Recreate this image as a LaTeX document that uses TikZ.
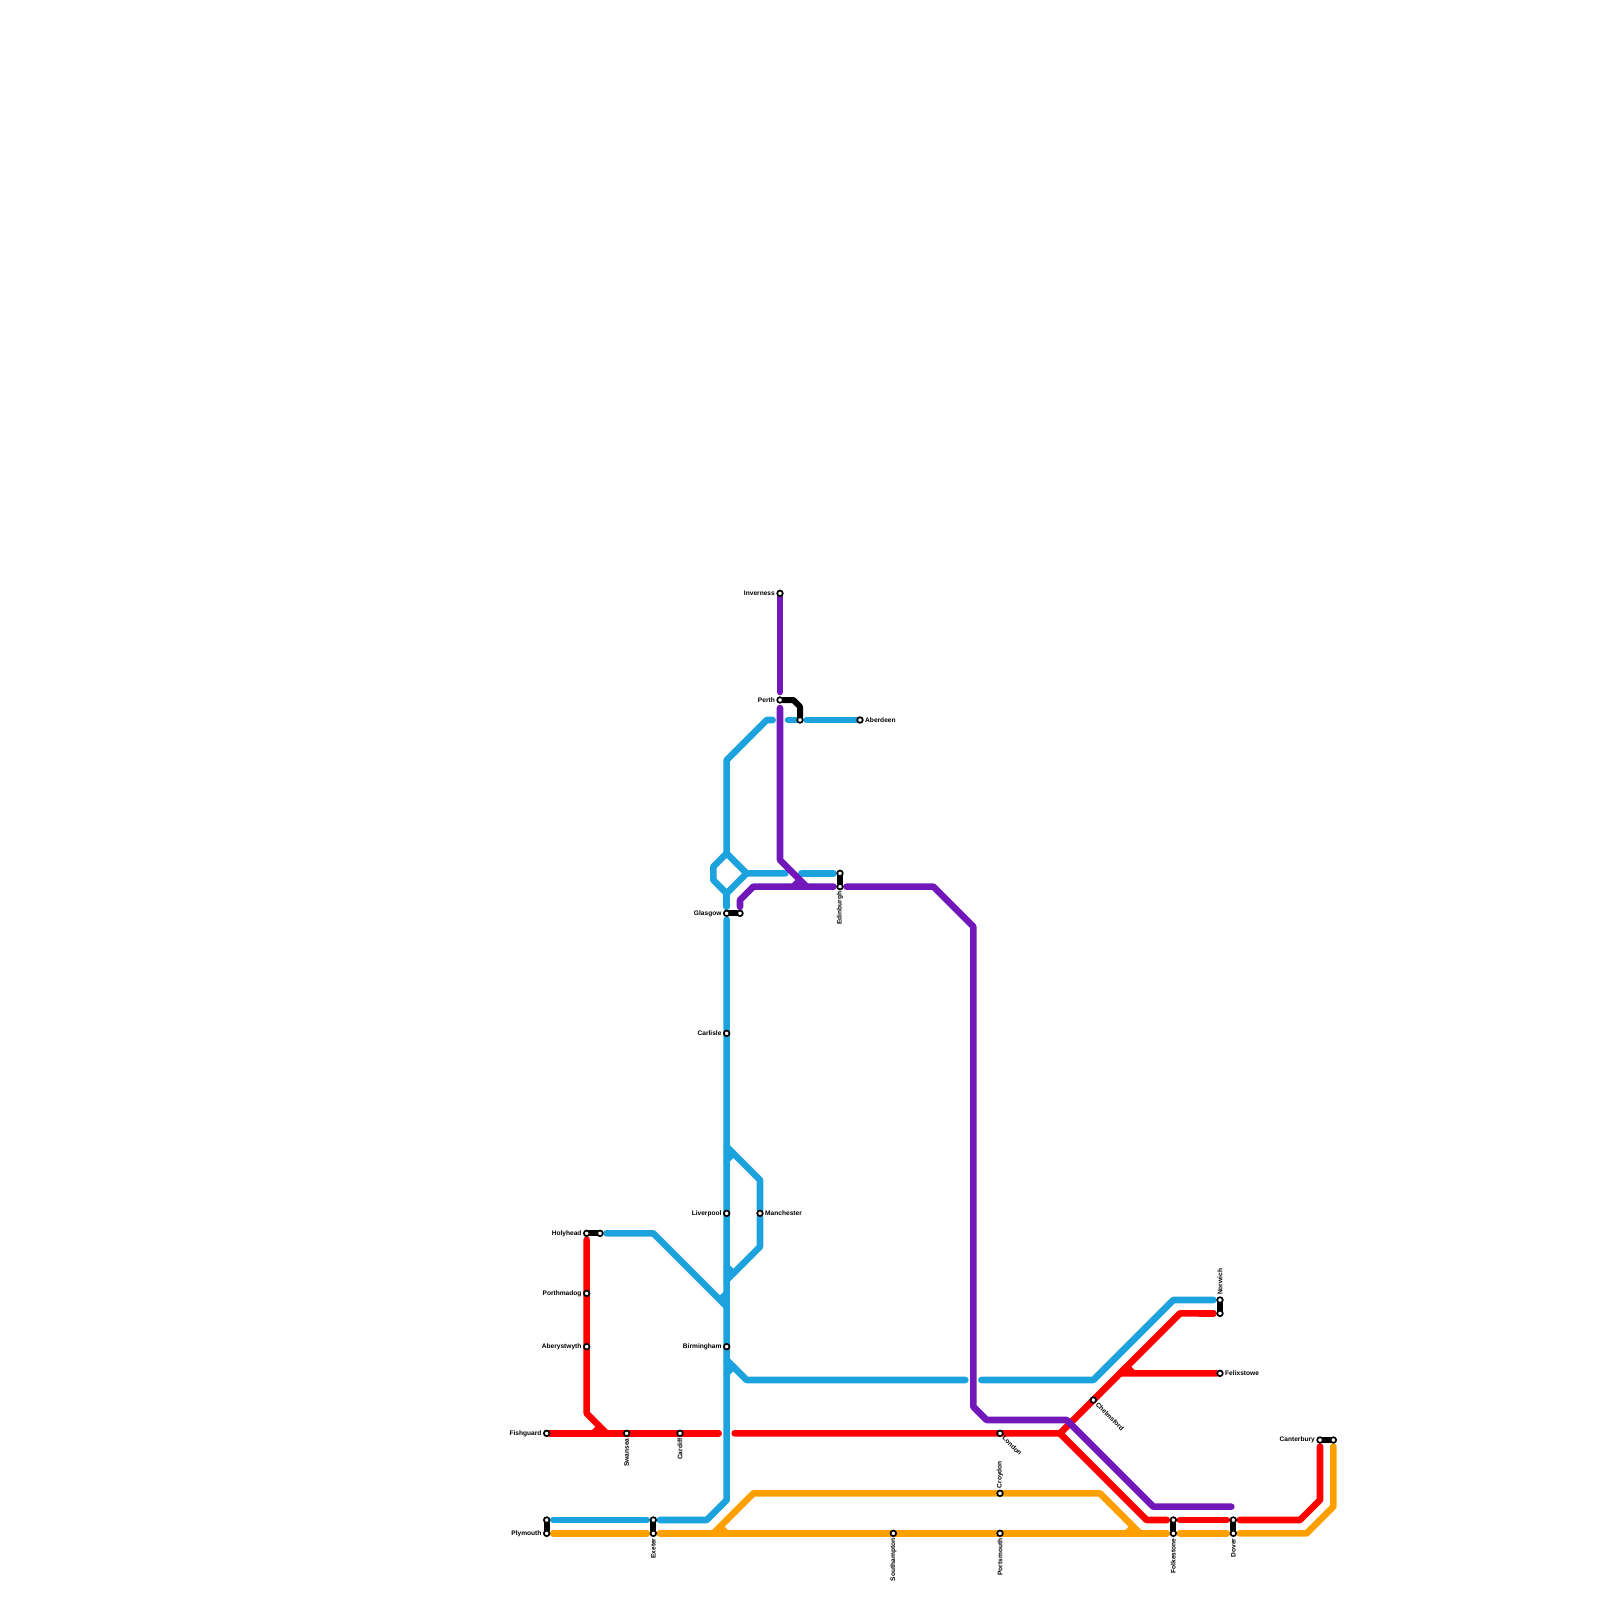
\documentclass[tikz,border=0pt]{standalone}
\usepackage{fontspec}
\setmainfont{Liberation Sans}
\definecolor{lineblue}{HTML}{1CA3DD}
\definecolor{linered}{HTML}{FF0000}
\definecolor{lineorange}{HTML}{FFA000}
\definecolor{linepurple}{HTML}{7218BA}
\tikzset{
  railway/.style={line width=6.6pt,line cap=round,line join=round},
  blueline/.style={railway,draw=lineblue},
  redline/.style={railway,draw=linered},
  orangeline/.style={railway,draw=lineorange},
  purpleline/.style={railway,draw=linepurple},
  transfer/.style={line width=6pt,line cap=round,line join=round,draw=black},
  gapstart/.style={shorten <=3.2pt},
  gapend/.style={shorten >=3.2pt},
  stn/.style={circle,minimum size=6.5pt,inner sep=0pt,outer sep=0pt},
  ring/.style={draw=black,fill=white,line width=1.7pt},
  lbl/.style={font=\bfseries\fontsize{6.6}{7}\selectfont,text=black,inner sep=0pt},
  lblleft/.style={lbl,anchor=east,xshift=-5pt},
  lblright/.style={lbl,anchor=west,xshift=5pt},
  lblbelow/.style={lbl,rotate=90,anchor=east,xshift=-5pt},
  lblabove/.style={lbl,rotate=90,anchor=west,xshift=5pt},
  lbldiag/.style={lbl,rotate=-45,anchor=west,xshift=5pt},
}
\begin{document}
\begin{tikzpicture}[x=6.6667pt,y=-6.6667pt]
\useasboundingbox (0,0) rectangle (240,240);

% stations
\node[stn] (inverness) at (117,89) {};
\node[stn] (perth) at (117,105) {};
\node[stn] (perthb) at (120,108) {};
\node[stn] (aberdeen) at (129,108) {};
\node[stn] (edinburgha) at (126,131) {};
\node[stn] (edinburgh) at (126,133) {};
\node[stn] (glasgow) at (109,137) {};
\node[stn] (glasgowb) at (111,137) {};
\node[stn] (carlisle) at (109,155) {};
\node[stn] (liverpool) at (109,182) {};
\node[stn] (manchester) at (114,182) {};
\node[stn] (holyhead) at (88,185) {};
\node[stn] (holyheadb) at (90,185) {};
\node[stn] (porthmadog) at (88,194) {};
\node[stn] (aberystwyth) at (88,202) {};
\node[stn] (birmingham) at (109,202) {};
\node[stn] (fishguard) at (82,215) {};
\node[stn] (swansea) at (94,215) {};
\node[stn] (cardiff) at (102,215) {};
\node[stn] (london) at (150,215) {};
\node[stn] (chelmsford) at (164,210) {};
\node[stn] (norwich) at (183,195) {};
\node[stn] (norwichb) at (183,197) {};
\node[stn] (felixstowe) at (183,206) {};
\node[stn] (canterbury) at (198,216) {};
\node[stn] (canterburyb) at (200,216) {};
\node[stn] (croydon) at (150,224) {};
\node[stn] (plymoutha) at (82,228) {};
\node[stn] (plymouth) at (82,230) {};
\node[stn] (exetera) at (98,228) {};
\node[stn] (exeter) at (98,230) {};
\node[stn] (southampton) at (134,230) {};
\node[stn] (portsmouth) at (150,230) {};
\node[stn] (folkestonea) at (176,228) {};
\node[stn] (folkestone) at (176,230) {};
\node[stn] (dovera) at (185,228) {};
\node[stn] (dover) at (185,230) {};

% free line ends beside crossings
\coordinate (perthn) at (117,103.8);
\coordinate (perths) at (117,106.2);
\coordinate (crossa) at (115.9,108);
\coordinate (crossb) at (118.2,108);
\coordinate (crossc) at (117.8,131);
\coordinate (crossd) at (120.2,131);
\coordinate (crosse) at (144.8,207);
\coordinate (crossf) at (147.2,207);
\coordinate (crossg) at (107.8,215);
\coordinate (crossh) at (110.2,215);
\coordinate (purplee) at (184.7,226);

% blue
\draw[blueline,gapstart] (perthb) -- (aberdeen);
\draw[blueline] (crossb) -- (120,108);
\draw[blueline] (crossa) -- (115,108) -- (109,114) -- (109,128) -- (112,131) -- (crossc);
\draw[blueline] (109,128) -- (107,130) -- (107,132) -- (109,134) -- (112,131);
\draw[blueline,gapend] (109,134) -- (glasgow);
\draw[blueline,gapend] (crossd) -- (edinburgha);
\draw[blueline,gapstart,gapend] (glasgow) -- (109,225) -- (106,228) -- (exetera);
\draw[blueline,gapstart,gapend] (exetera) -- (plymoutha);
\draw[blueline] (109,172) -- (110,173) -- (109,174);
\draw[blueline] (110,173) -- (114,177) -- (manchester) -- (114,187) -- (110,191);
\draw[blueline] (109,190) -- (110,191) -- (109,192);
\draw[blueline,gapstart] (holyheadb) -- (98,185) -- (109,196) -- (108,195) -- (109,194);
\draw[blueline] (109,204) -- (110,205) -- (109,206);
\draw[blueline] (110,205) -- (112,207) -- (crosse);
\draw[blueline,gapend] (crossf) -- (164,207) -- (176,195) -- (norwich);

% red
\draw[redline,gapstart] (holyhead) -- (88,212) -- (91,215) -- (90,214) -- (89,215);
\draw[redline] (fishguard) -- (crossg);
\draw[redline] (crossh) -- (159,215) -- (177,197) -- (180,197);
\draw[redline,gapend] (180,197) -- (norwichb);
\draw[redline] (felixstowe) -- (168,206) -- (169,205) -- (170,206);
\draw[redline,gapend] (159,215) -- (172,228) -- (folkestonea);
\draw[redline,gapstart,gapend] (folkestonea) -- (dovera);
\draw[redline,gapstart,gapend] (dovera) -- (195,228) -- (198,225) -- (canterbury);

% orange
\draw[orangeline,gapstart,gapend] (plymouth) -- (exeter);
\draw[orangeline,gapstart,gapend] (exeter) -- (folkestone);
\draw[orangeline] (109,230) -- (108,229) -- (107,230);
\draw[orangeline] (108,229) -- (113,224) -- (165,224) -- (171,230) -- (170,229) -- (169,230);
\draw[orangeline,gapstart,gapend] (folkestone) -- (dover);
\draw[orangeline,gapstart,gapend] (dover) -- (196,230) -- (200,226) -- (canterburyb);

% purple
\draw[purpleline] (inverness) -- (perthn);
\draw[purpleline] (perths) -- (117,129) -- (121,133) -- (120,132) -- (119,133);
\draw[purpleline,gapstart,gapend] (glasgowb) -- (111,135) -- (113,133) -- (edinburgh);
\draw[purpleline,gapstart] (edinburgh) -- (140,133) -- (146,139) -- (146,211) -- (148,213)
  -- (160,213) -- (173,226) -- (purplee);

% transfers
\draw[transfer] (perth) -- (119,105) -- (120,106) -- (perthb);
\draw[transfer] (edinburgha) -- (edinburgh);
\draw[transfer] (glasgow) -- (glasgowb);
\draw[transfer] (holyhead) -- (holyheadb);
\draw[transfer] (norwich) -- (norwichb);
\draw[transfer] (canterbury) -- (canterburyb);
\draw[transfer] (plymoutha) -- (plymouth);
\draw[transfer] (exetera) -- (exeter);
\draw[transfer] (folkestonea) -- (folkestone);
\draw[transfer] (dovera) -- (dover);

% station rings go over the lines
\foreach \s in {inverness,perth,perthb,aberdeen,edinburgha,edinburgh,glasgow,glasgowb,carlisle,
  liverpool,manchester,holyhead,holyheadb,porthmadog,aberystwyth,birmingham,fishguard,swansea,
  cardiff,london,chelmsford,norwich,norwichb,felixstowe,canterbury,canterburyb,croydon,plymoutha,
  plymouth,exetera,exeter,southampton,portsmouth,folkestonea,folkestone,dovera,dover}
  \draw[ring] (\s.center) circle (2.8pt);

% labels
\node[lblleft] (invernessl) at (inverness) {Inverness};
\node[lblleft] (perthl) at (perth) {Perth};
\node[lblright] (aberdeenl) at (aberdeen) {Aberdeen};
\node[lblbelow] (edinburghl) at (edinburgh) {Edinburgh};
\node[lblleft] (glasgowl) at (glasgow) {Glasgow};
\node[lblleft] (carlislel) at (carlisle) {Carlisle};
\node[lblleft] (liverpooll) at (liverpool) {Liverpool};
\node[lblright] (manchesterl) at (manchester) {Manchester};
\node[lblleft] (holyheadl) at (holyhead) {Holyhead};
\node[lblleft] (porthmadogl) at (porthmadog) {Porthmadog};
\node[lblleft] (aberystwythl) at (aberystwyth) {Aberystwyth};
\node[lblleft] (birminghaml) at (birmingham) {Birmingham};
\node[lblleft] (fishguardl) at (fishguard) {Fishguard};
\node[lblbelow] (swanseal) at (swansea) {Swansea};
\node[lblbelow] (cardiffl) at (cardiff) {Cardiff};
\node[lbldiag] (londonl) at (london) {London};
\node[lbldiag] (chelmsfordl) at (chelmsford) {Chelmsford};
\node[lblabove] (norwichl) at (norwich) {Norwich};
\node[lblright] (felixstowel) at (felixstowe) {Felixstowe};
\node[lblleft] (canterburyl) at (canterbury) {Canterbury};
\node[lblabove] (croydonl) at (croydon) {Croydon};
\node[lblleft] (plymouthl) at (plymouth) {Plymouth};
\node[lblbelow] (exeterl) at (exeter) {Exeter};
\node[lblbelow] (southamptonl) at (southampton) {Southampton};
\node[lblbelow] (portsmouthl) at (portsmouth) {Portsmouth};
\node[lblbelow] (folkestonel) at (folkestone) {Folkestone};
\node[lblbelow] (doverl) at (dover) {Dover};
\end{tikzpicture}
\end{document}
